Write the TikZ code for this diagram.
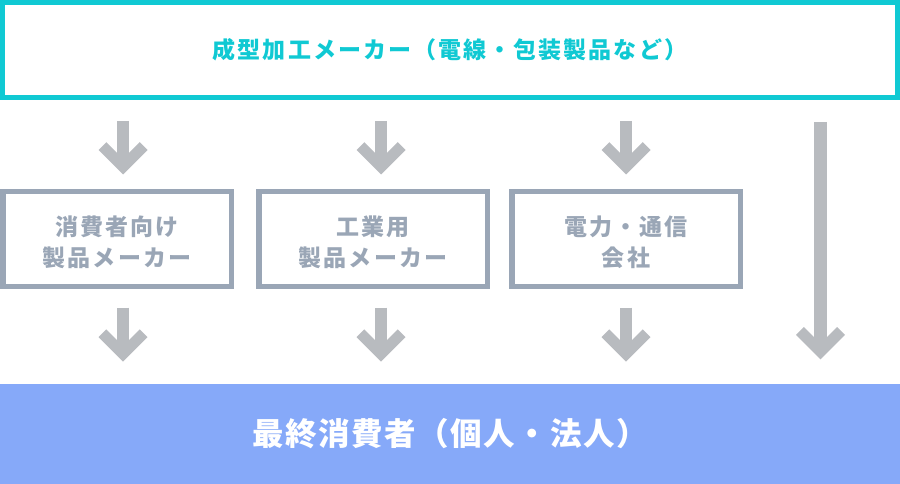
\documentclass[tikz,border=0pt]{standalone}
\usepackage{fontspec}
\newfontfamily\jptop[LetterSpace=9]{Noto Sans CJK JP}
\newfontfamily\jpmid[LetterSpace=9]{Noto Sans CJK JP}
\newfontfamily\jpbot[LetterSpace=5]{Noto Sans CJK JP}
\definecolor{teal}{HTML}{10C9D3}
\definecolor{boxgray}{HTML}{9AA6B6}
\definecolor{agray}{HTML}{B8BBBF}
\definecolor{barblue}{HTML}{86A9F9}
\newcommand\chevtip[1]{\fill[agray] (#1) -- ++(-24.5,-24.5) -- ++(7.8,-7.8) -- ++(16.7,16.7) -- ++(16.7,-16.7) -- ++(7.8,7.8) -- cycle;}
\newcommand\twolines[2]{\raisebox{-3pt}[\height][\depth]{\shortstack{#1\\[6pt]#2}}}
\tikzset{
  topbox/.style={draw=teal, line width=5pt, minimum width=895pt, minimum height=95pt, inner sep=0pt,
    text=teal, font=\jptop\bfseries\fontsize{23}{31}\selectfont},
  midbox/.style={draw=boxgray, line width=5.5pt, minimum width=228.5pt, minimum height=94.5pt, inner sep=0pt,
    align=center, text=boxgray, font=\jpmid\bfseries\fontsize{23}{31}\selectfont},
  botbar/.style={fill=barblue, minimum width=900pt, minimum height=100pt, inner sep=0pt,
    text=white, font=\jpbot\bfseries\fontsize{31.5}{36}\selectfont},
  shaft/.style={draw=agray, line width=12.5pt, shorten >=10pt}
}
\begin{document}
\begin{tikzpicture}[x=1pt,y=-1pt]
\useasboundingbox (0,0) rectangle (900,484);
\node[topbox] (top) at (450,50) {成型加工メーカー（電線・包装製品など）};
\node[midbox] (m1) at (117,239) {\twolines{消費者向け}{製品メーカー}};
\node[midbox] (m2) at (373,239) {\twolines{工業用}{製品メーカー}};
\node[midbox] (m3) at (626,239) {\twolines{電力・通信}{会社}};
\node[botbar] (bot) at (450,434) {最終消費者（個人・法人）};
% arrow coordinates
\coordinate (a1s) at (123,121);   \coordinate (a1e) at (123,174.5);
\coordinate (a2s) at (381,121);   \coordinate (a2e) at (381,174.5);
\coordinate (a3s) at (626,121);   \coordinate (a3e) at (626,174.5);
\coordinate (b1s) at (123,307.5); \coordinate (b1e) at (123,361.7);
\coordinate (b2s) at (381,307.5); \coordinate (b2e) at (381,361.7);
\coordinate (b3s) at (626,307.5); \coordinate (b3e) at (626,361.7);
\coordinate (ls) at (820.5,122);  \coordinate (le) at (820.5,359.3);
\foreach \s/\e in {a1s/a1e,a2s/a2e,a3s/a3e,b1s/b1e,b2s/b2e,b3s/b3e,ls/le}{
  \draw[shaft] (\s) -- (\e);
  \chevtip{\e}
}
\end{tikzpicture}
\end{document}
